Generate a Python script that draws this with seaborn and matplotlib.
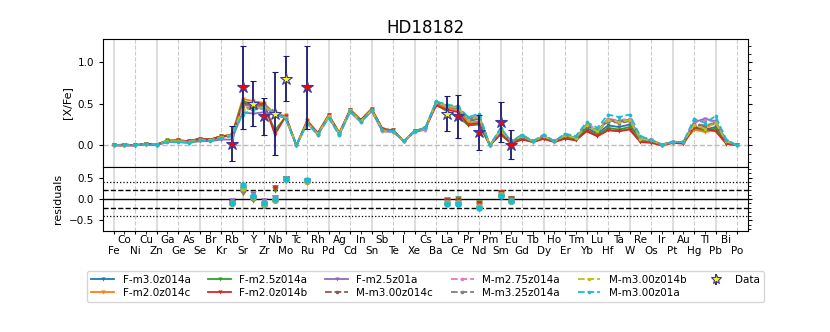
import numpy as np
import pandas as pd
import seaborn as sns
from matplotlib import pyplot as plt
from matplotlib.ticker import MultipleLocator

# elements Fe (26) .. Po (84)
elements = ['Fe', 'Co', 'Ni', 'Cu', 'Zn', 'Ga', 'Ge', 'As', 'Se', 'Br', 'Kr',
            'Rb', 'Sr', 'Y', 'Zr', 'Nb', 'Mo', 'Tc', 'Ru', 'Rh', 'Pd', 'Ag', 'Cd',
            'In', 'Sn', 'Sb', 'Te', 'I', 'Xe', 'Cs', 'Ba', 'La', 'Ce', 'Pr', 'Nd',
            'Pm', 'Sm', 'Eu', 'Gd', 'Tb', 'Dy', 'Ho', 'Er', 'Tm', 'Yb', 'Lu', 'Hf',
            'Ta', 'W', 'Re', 'Os', 'Ir', 'Pt', 'Au', 'Hg', 'Tl', 'Pb', 'Bi', 'Po']
Z = list(range(26, 85))

model_names = ['F-m3.0z014a', 'F-m2.0z014c', 'F-m2.5z014a', 'F-m2.0z014b', 'F-m2.5z01a',
               'M-m3.00z014c', 'M-m2.75z014a', 'M-m3.25z014a', 'M-m3.00z014b', 'M-m3.00z01a']

# [X/Fe] predictions of each model
F_m30z014a = [0.00, 0.01, 0.00, 0.02, 0.01, 0.05, 0.05, 0.04, 0.07, 0.06, 0.10,
              0.12, 0.50, 0.47, 0.47, 0.36, 0.34, 0.00, 0.28, 0.14, 0.35, 0.14, 0.42, 0.30, 0.43, 0.19, 0.17,
              0.05, 0.17, 0.21, 0.51, 0.46, 0.44, 0.29, 0.32, 0.00, 0.17, 0.04, 0.10, 0.05, 0.10, 0.05,
              0.11, 0.08, 0.21, 0.14, 0.24, 0.22, 0.25, 0.07, 0.05, 0.01, 0.03, 0.03, 0.22, 0.19, 0.22, 0.04, 0.00]
F_m20z014c = [0.00, 0.00, 0.00, 0.02, 0.01, 0.06, 0.06, 0.05, 0.08, 0.07, 0.11,
              0.13, 0.56, 0.53, 0.51, 0.36, 0.36, 0.00, 0.30, 0.15, 0.37, 0.15, 0.43, 0.31, 0.44, 0.20, 0.18,
              0.05, 0.17, 0.20, 0.50, 0.45, 0.42, 0.27, 0.29, 0.00, 0.15, 0.03, 0.08, 0.04, 0.08, 0.04,
              0.09, 0.07, 0.17, 0.11, 0.19, 0.17, 0.20, 0.05, 0.04, 0.00, 0.03, 0.03, 0.19, 0.16, 0.18, 0.02, 0.00]
F_m25z014a = [0.00, 0.01, 0.00, 0.02, 0.01, 0.06, 0.06, 0.05, 0.08, 0.07, 0.11,
              0.12, 0.53, 0.50, 0.48, 0.18, 0.34, 0.00, 0.29, 0.14, 0.36, 0.14, 0.42, 0.30, 0.43, 0.19, 0.18,
              0.05, 0.17, 0.21, 0.49, 0.41, 0.35, 0.24, 0.25, 0.00, 0.13, 0.02, 0.09, 0.04, 0.09, 0.05,
              0.10, 0.08, 0.19, 0.12, 0.21, 0.19, 0.22, 0.06, 0.04, 0.01, 0.03, 0.03, 0.21, 0.18, 0.20, 0.03, 0.00]
F_m20z014b = [0.00, 0.00, 0.00, 0.02, 0.01, 0.05, 0.06, 0.05, 0.08, 0.07, 0.11,
              0.12, 0.50, 0.49, 0.50, 0.13, 0.35, 0.00, 0.29, 0.15, 0.36, 0.15, 0.43, 0.30, 0.44, 0.20, 0.18,
              0.05, 0.17, 0.20, 0.48, 0.43, 0.40, 0.25, 0.27, 0.00, 0.14, 0.02, 0.07, 0.04, 0.08, 0.04,
              0.08, 0.06, 0.17, 0.11, 0.18, 0.17, 0.19, 0.04, 0.03, 0.00, 0.03, 0.02, 0.22, 0.20, 0.17, 0.02, 0.00]
F_m25z01a = [0.00, 0.00, 0.00, 0.01, 0.00, 0.04, 0.04, 0.03, 0.05, 0.05, 0.07,
             0.07, 0.40, 0.38, 0.40, 0.37, 0.33, 0.00, 0.27, 0.13, 0.34, 0.13, 0.40, 0.28, 0.41, 0.17, 0.16,
             0.05, 0.16, 0.19, 0.51, 0.47, 0.44, 0.30, 0.33, 0.00, 0.18, 0.04, 0.11, 0.05, 0.11, 0.05,
             0.12, 0.09, 0.24, 0.17, 0.30, 0.28, 0.30, 0.08, 0.06, 0.01, 0.04, 0.04, 0.28, 0.32, 0.29, 0.05, 0.00]
M_m300z014c = [0.00, 0.01, 0.00, 0.02, 0.01, 0.05, 0.05, 0.04, 0.07, 0.06, 0.10,
               0.12, 0.45, 0.46, 0.47, 0.40, 0.33, 0.00, 0.27, 0.14, 0.35, 0.14, 0.42, 0.29, 0.43, 0.18, 0.17,
               0.05, 0.17, 0.21, 0.52, 0.47, 0.45, 0.31, 0.34, 0.00, 0.18, 0.05, 0.11, 0.05, 0.11, 0.05,
               0.12, 0.09, 0.24, 0.17, 0.29, 0.27, 0.29, 0.08, 0.06, 0.01, 0.04, 0.04, 0.25, 0.23, 0.26, 0.05, 0.00]
M_m275z014a = [0.00, 0.01, 0.00, 0.02, 0.01, 0.05, 0.05, 0.04, 0.07, 0.06, 0.09,
               0.11, 0.43, 0.44, 0.45, 0.39, 0.33, 0.00, 0.27, 0.13, 0.34, 0.13, 0.41, 0.28, 0.42, 0.17, 0.16,
               0.05, 0.16, 0.19, 0.52, 0.48, 0.46, 0.32, 0.35, 0.00, 0.19, 0.05, 0.12, 0.05, 0.12, 0.05,
               0.13, 0.10, 0.26, 0.19, 0.32, 0.30, 0.32, 0.09, 0.06, 0.01, 0.04, 0.04, 0.27, 0.30, 0.28, 0.06, 0.00]
M_m325z014a = [0.00, 0.01, 0.00, 0.02, 0.01, 0.05, 0.05, 0.04, 0.07, 0.06, 0.10,
               0.12, 0.48, 0.48, 0.48, 0.41, 0.33, 0.00, 0.28, 0.14, 0.35, 0.14, 0.42, 0.29, 0.43, 0.18, 0.17,
               0.05, 0.17, 0.21, 0.52, 0.48, 0.45, 0.32, 0.35, 0.00, 0.19, 0.05, 0.11, 0.05, 0.11, 0.05,
               0.12, 0.09, 0.25, 0.18, 0.31, 0.29, 0.31, 0.08, 0.06, 0.01, 0.04, 0.04, 0.26, 0.24, 0.27, 0.05, 0.00]
M_m300z014b = [0.00, 0.01, 0.00, 0.02, 0.01, 0.05, 0.05, 0.04, 0.07, 0.06, 0.10,
               0.12, 0.44, 0.45, 0.46, 0.40, 0.33, 0.00, 0.27, 0.14, 0.35, 0.14, 0.42, 0.29, 0.43, 0.18, 0.17,
               0.05, 0.17, 0.21, 0.52, 0.47, 0.45, 0.31, 0.34, 0.00, 0.18, 0.05, 0.11, 0.05, 0.11, 0.05,
               0.12, 0.09, 0.24, 0.17, 0.30, 0.28, 0.30, 0.08, 0.06, 0.01, 0.04, 0.04, 0.24, 0.20, 0.27, 0.05, 0.00]
M_m300z01a = [0.00, 0.01, 0.00, 0.02, 0.01, 0.04, 0.04, 0.03, 0.06, 0.05, 0.09,
              0.11, 0.37, 0.43, 0.44, 0.39, 0.32, 0.00, 0.26, 0.13, 0.33, 0.12, 0.41, 0.28, 0.42, 0.19, 0.17,
              0.05, 0.17, 0.21, 0.53, 0.49, 0.47, 0.34, 0.38, 0.00, 0.21, 0.05, 0.13, 0.05, 0.13, 0.05,
              0.14, 0.11, 0.28, 0.21, 0.37, 0.34, 0.37, 0.11, 0.07, 0.01, 0.04, 0.04, 0.32, 0.27, 0.35, 0.07, 0.00]

# observed abundances of HD18182
obs_el = ['Rb', 'Sr', 'Y', 'Zr', 'Nb', 'Mo', 'Ru', 'La', 'Ce', 'Nd', 'Sm', 'Eu']
obs_val = [0.02, 0.70, 0.50, 0.35, 0.38, 0.80, 0.70, 0.38, 0.35, 0.16, 0.28, 0.01]
obs_err = [0.21, 0.50, 0.27, 0.22, 0.50, 0.27, 0.50, 0.21, 0.26, 0.21, 0.24, 0.17]
obs_red = [True, True, False, True, False, False, True, False, True, True, True, True]

models = [F_m30z014a, F_m20z014c, F_m25z014a, F_m20z014b, F_m25z01a,
          M_m300z014c, M_m275z014a, M_m325z014a, M_m300z014b, M_m300z01a]
colors = sns.color_palette('tab10', 10)

fig = plt.figure(figsize=(8.3, 3.32), dpi=100)
gs = fig.add_gridspec(2, 1, height_ratios=[2, 1], hspace=0,
                      left=0.124, right=0.901, top=0.883, bottom=0.304)
ax = fig.add_subplot(gs[0])
axr = fig.add_subplot(gs[1], sharex=ax)

# vertical grid: solid every 4 elements, dashed in between
for a in (ax, axr):
    for z in Z[::4]:
        a.axvline(z, color='#dddddd', lw=1.4, zorder=0)
    for z in Z[2::4]:
        a.axvline(z, color='#cccccc', lw=0.8, ls='--', zorder=0)

ax.axhline(0, color='#bbbbbb', lw=1, ls='--', zorder=0)

obs_z = [Z[elements.index(e)] for e in obs_el]

handles = []
for name, vals, c in zip(model_names, models, colors):
    is_f = name.startswith('F')
    mk = 'v' if is_f else 'o'
    ls = '-' if is_f else '--'
    df = pd.DataFrame({'Z': Z, 'XFe': vals})
    sns.lineplot(data=df, x='Z', y='XFe', ax=ax, color=c, lw=1.3, ls=ls,
                 marker=mk, markersize=3.0 if is_f else 2.6, markeredgewidth=0,
                 estimator=None, sort=False, label=name, legend=False)
    handles.append(ax.lines[-1])
    # residuals = observed - model
    res = pd.DataFrame({'Z': obs_z,
                        'res': [v - vals[elements.index(e)] for e, v in zip(obs_el, obs_val)]})
    sns.scatterplot(data=res, x='Z', y='res', ax=axr, color=c, marker=mk, s=22,
                    linewidth=0, legend=False, zorder=3)

# observations
for z, v, e, red in zip(obs_z, obs_val, obs_err, obs_red):
    ax.errorbar(z, v, yerr=e, fmt='*', ms=9, mfc='red' if red else 'yellow',
                mec='#3b3b9a', mew=0.8, ecolor='#1a1a6e', elinewidth=1.3,
                capsize=2, capthick=1, zorder=5)
data_handle = ax.errorbar([], [], yerr=[], fmt='*', ms=7, mfc='yellow', mec='#3b3b9a',
                          mew=0.8, ecolor='#1a1a6e', elinewidth=1.3, capsize=2)
handles.append(data_handle)

ax.set_xlim(25, 85)
ax.set_ylim(-0.26, 1.28)
ax.set_yticks([0.0, 0.5, 1.0])
ax.yaxis.set_minor_locator(MultipleLocator(0.1))
ax.set_ylabel('[X/Fe]', fontsize=8)
ax.set_xlabel('')
ax.set_title('HD18182', fontsize=12, pad=4)

axr.axhline(0, color='k', lw=1)
for y in (0.2, -0.2):
    axr.axhline(y, color='k', lw=1, ls='--')
for y in (0.4, -0.4):
    axr.axhline(y, color='k', lw=0.9, ls=':')
axr.set_ylim(-0.75, 0.75)
axr.set_yticks([-0.5, 0.0, 0.5])
axr.yaxis.set_minor_locator(MultipleLocator(0.1))
axr.set_ylabel('residuals', fontsize=8)
axr.set_xlabel('')
# two rows of element labels: even ones lower, odd ones upper
axr.set_xticks(Z[::2])
axr.set_xticklabels(elements[::2], fontsize=7.5)
axr.set_xticks(Z[1::2], minor=True)
axr.set_xticklabels(elements[1::2], minor=True, fontsize=7.5)
axr.tick_params(axis='x', which='major', length=2, pad=9)
axr.tick_params(axis='x', which='minor', length=2, pad=1)

for a in (ax, axr):
    a.tick_params(axis='y', which='major', labelsize=7.5, right=True, length=3)
    a.tick_params(axis='y', which='minor', left=False, right=True, length=2)
    for s in a.spines.values():
        s.set_linewidth(0.8)
ax.tick_params(axis='x', which='both', bottom=False, labelbottom=False)

fig.legend(handles, model_names + ['Data'], loc='upper center',
           bbox_to_anchor=(0.513, 0.2), ncol=6, fontsize=7.5,
           handlelength=2.2, columnspacing=1.7, labelspacing=0.3)

fig.savefig('out.png', dpi=100)
